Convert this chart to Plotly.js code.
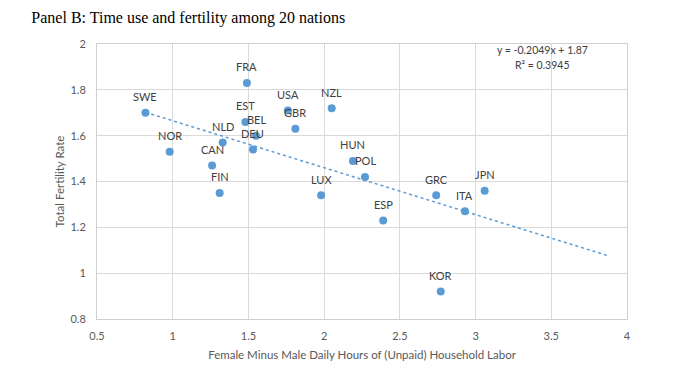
<!DOCTYPE html>
<html><head><meta charset="utf-8">
<script src="https://cdn.plot.ly/plotly-3.0.1.min.js"></script>
<style>html,body{margin:0;padding:0;background:#fff}#chart{width:697px;height:381px}</style>
</head><body><div id="chart"></div>
<script>
const countries = ["SWE","NOR","CAN","FIN","NLD","FRA","EST","BEL","DEU","USA","GBR","NZL","HUN","POL","LUX","ESP","GRC","ITA","JPN","KOR"];
const laborGap = [0.82,0.98,1.26,1.31,1.33,1.49,1.48,1.55,1.53,1.76,1.81,2.05,2.19,2.27,1.98,2.39,2.74,2.93,3.06,2.77];
const fertility = [1.70,1.53,1.47,1.35,1.57,1.83,1.66,1.60,1.54,1.71,1.63,1.72,1.49,1.42,1.34,1.23,1.34,1.27,1.36,0.92];
const trendSlope = -0.2049, trendIntercept = 1.87;
const trendX = [0.82, 3.87];
const trendY = trendX.map(x => trendSlope * x + trendIntercept);
const xTicks = [0.5,1,1.5,2,2.5,3,3.5,4];
const xTickText = ["0.5","1","1.5","2","2.5","3","3.5","4"];
const yTicks = [0.8,1,1.2,1.4,1.6,1.8,2];
const yTickText = ["0.8","1","1.2","1.4","1.6","1.8","2"];

const labelFont = {family: "Lato, 'Open Sans', sans-serif", size: 11, color: "#404040"};
const annotations = countries.map((c, i) => ({
  x: laborGap[i], y: fertility[i], text: c, showarrow: false,
  xref: "x", yref: "y", yshift: 16, font: labelFont
}));
annotations.push({xref:"paper", yref:"paper", x:0.84, y:1.0, xanchor:"center", yanchor:"middle",
  text:"y = -0.2049x + 1.87", showarrow:false, font:{family:"Lato, sans-serif", size:10.5, color:"#404040"}, yshift:-6});
annotations.push({xref:"paper", yref:"paper", x:0.84, y:1.0, xanchor:"center", yanchor:"middle",
  text:"R² = 0.3945", showarrow:false, font:{family:"Lato, sans-serif", size:10.5, color:"#404040"}, yshift:-21});

const data = [
  {x: trendX, y: trendY, mode: "lines", line: {color: "#5b9bd5", width: 1.5, dash: "dot"}, hoverinfo: "skip", showlegend: false},
  {x: laborGap, y: fertility, mode: "markers", marker: {color: "#5b9bd5", size: 8}, showlegend: false}
];
const layout = {
  width: 697, height: 381,
  margin: {l: 97, r: 70, t: 44, b: 62},
  paper_bgcolor: "#fff", plot_bgcolor: "#fff",
  title: {text: "Panel B: Time use and fertility among 20 nations", x: 0.045, xanchor: "left", y: 0.955, yanchor: "middle",
    font: {family: "'Liberation Serif', 'DejaVu Serif', serif", size: 16, color: "#000"}},
  xaxis: {range: [0.5, 4], tickvals: xTicks, ticktext: xTickText, showgrid: true, gridcolor: "#d9d9d9", gridwidth: 1,
    zeroline: false, showline: true, linecolor: "#d0d0d0", mirror: true, ticks: "", ticklabelstandoff: 7,
    tickfont: {family: "Lato, sans-serif", size: 11, color: "#595959"},
    title: {text: "Female Minus Male Daily Hours of (Unpaid) Household Labor", standoff: 9,
      font: {family: "Lato, sans-serif", size: 11.5, color: "#595959"}}},
  yaxis: {range: [0.8, 2], tickvals: yTicks, ticktext: yTickText, showgrid: true, gridcolor: "#d9d9d9", gridwidth: 1,
    zeroline: false, showline: true, linecolor: "#d0d0d0", mirror: true, ticks: "", ticklabelstandoff: 8,
    tickfont: {family: "Lato, sans-serif", size: 11, color: "#595959"},
    title: {text: "Total Fertility Rate", standoff: 3,
      font: {family: "Lato, sans-serif", size: 11.5, color: "#595959"}}},
  annotations: annotations
};
Plotly.newPlot("chart", data, layout, {displayModeBar: false, staticPlot: true});
</script>
</body></html>
